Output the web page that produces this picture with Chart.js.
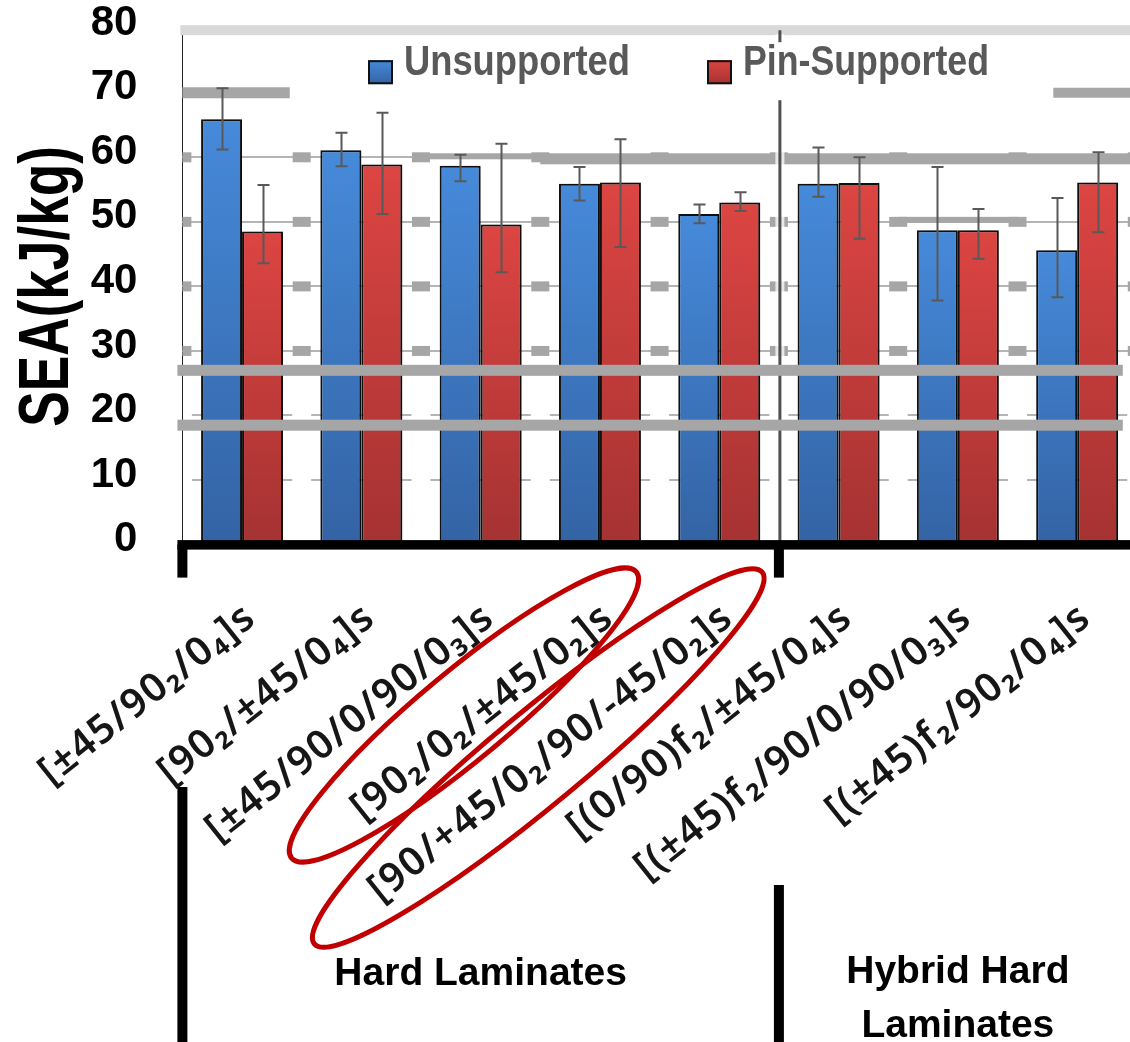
<!DOCTYPE html>
<html>
<head>
<meta charset="utf-8">
<script src="https://cdn.jsdelivr.net/npm/chart.js@4.4.1/dist/chart.umd.min.js"></script>
<style>
  html, body { margin: 0; padding: 0; background: #ffffff; overflow: hidden; }
  #wrap { width: 1140px; height: 1042px; }
</style>
</head>
<body>
<div id="wrap"><canvas id="sea" width="1140" height="1042"></canvas></div>
<script>
// Laminate lay-ups (x categories)
const categories = [
  "[±45/90₂/0₄]s",
  "[90₂/±45/0₄]s",
  "[±45/90/0/90/0₃]s",
  "[90₂/0₂/±45/0₂]s",
  "[90/+45/0₂/90/-45/0₂]s",
  "[(0/90)f₂/±45/0₄]s",
  "[(±45)f₂/90/0/90/0₃]s",
  "[(±45)f₂/90₂/0₄]s"
];
// Category groups and how many lay-ups each one spans
const groupNames = ["Hard Laminates", "Hybrid Hard\nLaminates"];
const groupSizes = [5, 3];

// Series
const seriesNames = ["Unsupported", "Pin-Supported"];
const unsupported        = [65.9, 61.1, 58.7, 55.9, 51.2, 55.9, 48.7, 45.6];
const unsupportedErrUp   = [4.8, 2.7, 1.7, 2.6, 1.5, 5.6, 9.8, 8.1];
const unsupportedErrDown = [4.7, 2.5, 2.4, 2.6, 1.4, 2.0, 10.9, 7.3];
const pinSupported        = [48.5, 58.9, 49.6, 56.1, 53.0, 56.0, 48.7, 56.1];
const pinSupportedErrUp   = [7.2, 8.0, 12.5, 6.7, 1.6, 4.0, 3.3, 4.7];
const pinSupportedErrDown = [4.9, 7.7, 7.4, 10.0, 1.3, 8.6, 4.4, 7.7];

// Value axis
const yTicks = [0, 10, 20, 30, 40, 50, 60, 70, 80];
const yTitle = "SEA(kJ/kg)";

// Heavy grey rules laid across the plot, in axis units
const heavyRules = [27.0, 18.5];
const blockLevels = [30, 40, 50, 60];
const brokenGridLevels = [10, 20];

// Circled lay-ups (category indices)
const circled = [3, 4];

const BLUE = ['#468ada', '#3363a4'];
const RED = ['#dc4542', '#a53232'];
const GRID = '#b4b4b4';
const BLOCK = '#a6a6a6';

function barFill(stops) {
  return (c) => {
    const chart = c.chart;
    if (!chart.chartArea || c.raw == null) return stops[0];
    const ys = chart.scales.y;
    const top = ys.getPixelForValue(c.raw);
    const base = ys.getPixelForValue(0);
    const g = chart.ctx.createLinearGradient(0, top, 0, base);
    g.addColorStop(0, stops[0]);
    g.addColorStop(1, stops[1]);
    return g;
  };
}

function condensedText(ctx, text, x, y, font, targetW, align) {
  ctx.save();
  ctx.font = font;
  const w = ctx.measureText(text).width;
  const sx = targetW / w;
  ctx.translate(x, y);
  ctx.scale(sx, 1);
  ctx.textAlign = align || 'left';
  ctx.fillText(text, 0, 0);
  ctx.restore();
}

const overlay = {
  id: 'overlay',
  beforeDatasetsDraw(chart) {
    const { ctx, chartArea: a, scales: { x, y } } = chart;
    const n = categories.length;
    const cw = (x.right - x.left) / n;
    const bx = k => x.left + k * cw;
    const W = chart.width;
    ctx.save();

    // pale rule along the top of the scale
    ctx.fillStyle = '#d9d9d9';
    ctx.fillRect(a.left - 2, y.getPixelForValue(80) - 3, W, 10);

    // thin grid lines
    ctx.strokeStyle = GRID;
    ctx.lineWidth = 2;
    for (const v of blockLevels) {
      const py = Math.round(y.getPixelForValue(v));
      ctx.beginPath(); ctx.moveTo(a.left, py); ctx.lineTo(a.right, py); ctx.stroke();
    }
    for (const v of brokenGridLevels) {
      const py = Math.round(y.getPixelForValue(v));
      for (let k = 0; k < n; k++) {
        ctx.beginPath();
        ctx.moveTo(Math.max(a.left, bx(k) + 9.5), py);
        ctx.lineTo(bx(k + 1) - 9.5, py);
        ctx.stroke();
      }
    }

    // square blocks on the category boundaries
    ctx.fillStyle = BLOCK;
    for (const v of blockLevels) {
      const py = y.getPixelForValue(v);
      for (let k = 0; k <= n; k++) {
        const l = Math.max(a.left, bx(k) - 9);
        ctx.fillRect(l, py - 5, bx(k) + 9 - l, 10);
      }
    }

    // partial heavy rules
    const y70 = y.getPixelForValue(70);
    ctx.fillRect(a.left, y70 - 5.5, bx(0.9) - a.left, 11);
    ctx.fillRect(bx(7.3), y70 - 5, W, 10);
    const y60 = y.getPixelForValue(60);
    ctx.fillRect(bx(2) + 9, y60 - 4, bx(3) - bx(2) - 9, 6);
    ctx.fillRect(bx(3), y60 - 4, W, 11);
    const y50 = y.getPixelForValue(50);
    ctx.fillRect(bx(6), y50 - 5, bx(7) - bx(6), 6);

    ctx.restore();
  },
  beforeDatasetDraw(chart) {
    const c = chart.ctx;
    c.save();
    c.shadowColor = 'rgba(0,0,0,0.28)';
    c.shadowBlur = 6;
    c.shadowOffsetX = 3;
  },
  afterDatasetDraw(chart) {
    chart.ctx.restore();
  },
  afterDatasetsDraw(chart) {
    const { ctx, chartArea: a, scales: { x, y } } = chart;
    const n = categories.length;
    const cw = (x.right - x.left) / n;
    const bx = k => x.left + k * cw;
    const W = chart.width;
    const base = y.getPixelForValue(0);
    ctx.save();

    // error bars
    const errs = [[unsupportedErrUp, unsupportedErrDown], [pinSupportedErrUp, pinSupportedErrDown]];
    ctx.strokeStyle = '#595959';
    ctx.lineWidth = 2;
    chart.data.datasets.forEach((ds, di) => {
      const meta = chart.getDatasetMeta(di);
      meta.data.forEach((bar, i) => {
        const v = ds.data[i];
        const hi = y.getPixelForValue(v + errs[di][0][i]);
        const lo = y.getPixelForValue(v - errs[di][1][i]);
        const cx = Math.round(bar.x) + 0.5;
        ctx.beginPath();
        ctx.moveTo(cx, hi); ctx.lineTo(cx, lo);
        ctx.moveTo(cx - 6, hi); ctx.lineTo(cx + 6, hi);
        ctx.moveTo(cx - 6, lo); ctx.lineTo(cx + 6, lo);
        ctx.stroke();
      });
    });

    // separator between the two groups
    const sx = bx(groupSizes[0]) + 1;
    const sepTop = y.getPixelForValue(80) + 2;
    ctx.save();
    ctx.filter = 'blur(0.7px)';
    ctx.strokeStyle = 'rgba(255,255,255,0.75)';
    ctx.lineWidth = 9;
    ctx.beginPath(); ctx.moveTo(sx, sepTop + 4); ctx.lineTo(sx, base); ctx.stroke();
    ctx.strokeStyle = '#505050';
    ctx.lineWidth = 3;
    ctx.beginPath(); ctx.moveTo(sx, sepTop); ctx.lineTo(sx, base); ctx.stroke();
    ctx.restore();

    // heavy grey rules across the bars
    ctx.fillStyle = BLOCK;
    for (const v of heavyRules) {
      const py = y.getPixelForValue(v);
      ctx.fillRect(a.left - 5, py - 5.5, bx(n) - 14 - (a.left - 5), 11);
    }

    // legend
    const legTop = y.getPixelForValue(80) + 14;
    ctx.fillStyle = '#ffffff';
    ctx.fillRect(358, legTop, 642, 58);
    const legX = [368, 707];
    const legW = [226, 246];
    const boxY = legTop + 18;
    chart.data.datasets.forEach((ds, di) => {
      const stops = di === 0 ? BLUE : RED;
      const g = ctx.createLinearGradient(0, boxY, 0, boxY + 24);
      g.addColorStop(0, stops[0]); g.addColorStop(1, stops[1]);
      ctx.fillStyle = g;
      ctx.fillRect(legX[di], boxY, 25, 24);
      ctx.strokeStyle = '#111';
      ctx.lineWidth = 2;
      ctx.strokeRect(legX[di] + 1, boxY + 1, 23, 22);
      ctx.fillStyle = '#595959';
      ctx.textBaseline = 'alphabetic';
      condensedText(ctx, ds.label, legX[di] + 36, legTop + 33, 'bold 42px "Liberation Sans", Arial, sans-serif', legW[di]);
    });

    // black category axis
    ctx.fillStyle = '#000';
    ctx.fillRect(a.left - 5, base - 4.5, W, 9.5);
    const marks = [[bx(0), 787], [bx(groupSizes[0]), 885]];
    for (const [mx, lowTop] of marks) {
      ctx.fillRect(mx - 5, base, 10, 33);
      ctx.fillRect(mx - 5, lowTop, 10, chart.height - lowTop);
    }

    // lay-up labels
    const ang = 38.5 * Math.PI / 180;
    ctx.save();
    ctx.filter = 'blur(0.6px)';
    ctx.fillStyle = '#161616';
    ctx.font = '600 40px "Noto Sans", "DejaVu Sans", sans-serif';
    ctx.letterSpacing = '1.5px';
    ctx.textAlign = 'right';
    ctx.textBaseline = 'alphabetic';
    categories.forEach((lab, i) => {
      const px = x.getPixelForValue(i) + 16;
      ctx.save();
      ctx.translate(px, base + 77);
      ctx.rotate(-ang);
      ctx.fillText(lab, 0, 0);
      ctx.restore();
    });
    ctx.restore();

    // hand-drawn rings around two lay-ups
    ctx.strokeStyle = '#c00000';
    ctx.lineWidth = 5;
    const rings = [
      { dx: -136, cy: 715, a: 224, b: 44 },
      { dx: -181, cy: 758, a: 291, b: 46 }
    ];
    circled.forEach((ci, k) => {
      const r = rings[k];
      ctx.beginPath();
      ctx.ellipse(x.getPixelForValue(ci) + r.dx, r.cy, r.a, r.b, -39.7 * Math.PI / 180, 0, Math.PI * 2);
      ctx.stroke();
    });

    // group captions
    ctx.fillStyle = '#000';
    ctx.font = 'bold 39px "Liberation Sans", Arial, sans-serif';
    ctx.textAlign = 'center';
    let start = 0;
    groupNames.forEach((g, gi) => {
      const gx = (bx(start) + bx(start + groupSizes[gi])) / 2;
      const lines = g.split('\n');
      lines.forEach((ln, li) => {
        const by = lines.length === 1 ? 985 : 983 + li * 54;
        ctx.fillText(ln, gx, by);
      });
      start += groupSizes[gi];
    });

    // value-axis title
    ctx.save();
    ctx.translate(68, (y.getPixelForValue(80) + base) / 2);
    ctx.rotate(-Math.PI / 2);
    ctx.fillStyle = '#000';
    ctx.textAlign = 'center';
    ctx.textBaseline = 'alphabetic';
    ctx.font = 'bold 70px "Liberation Sans", Arial, sans-serif';
    ctx.scale(0.76, 1);
    ctx.fillText(yTitle, 0, 0);
    ctx.restore();

    ctx.restore();
  }
};

new Chart(document.getElementById('sea'), {
  type: 'bar',
  data: {
    labels: categories,
    datasets: [
      { label: seriesNames[0], data: unsupported, backgroundColor: barFill(BLUE), borderColor: '#111', borderWidth: 2 },
      { label: seriesNames[1], data: pinSupported, backgroundColor: barFill(RED), borderColor: '#111', borderWidth: 2 }
    ]
  },
  options: {
    responsive: false,
    devicePixelRatio: 1,
    animation: false,
    layout: { padding: { left: 0, top: 28, right: 3.2, bottom: 497.4 } },
    datasets: { bar: { categoryPercentage: 0.687, barPercentage: 1.0 } },
    plugins: { legend: { display: false }, tooltip: { enabled: false } },
    scales: {
      x: { display: false },
      y: {
        min: 0, max: 80,
        afterBuildTicks: s => { s.ticks = yTicks.map(v => ({ value: v })); },
        afterFit: s => { s.width = 182.4; },
        ticks: {
          color: '#000',
          padding: 3,
          labelOffset: -5,
          font: { family: '"Liberation Sans", Arial, sans-serif', size: 42, weight: 'bold' }
        },
        grid: { display: true, drawOnChartArea: false, drawTicks: true, tickLength: 42, color: 'rgba(0,0,0,0)' },
        border: { display: true, color: '#222', width: 1 }
      }
    }
  },
  plugins: [overlay]
});
</script>
</body>
</html>
